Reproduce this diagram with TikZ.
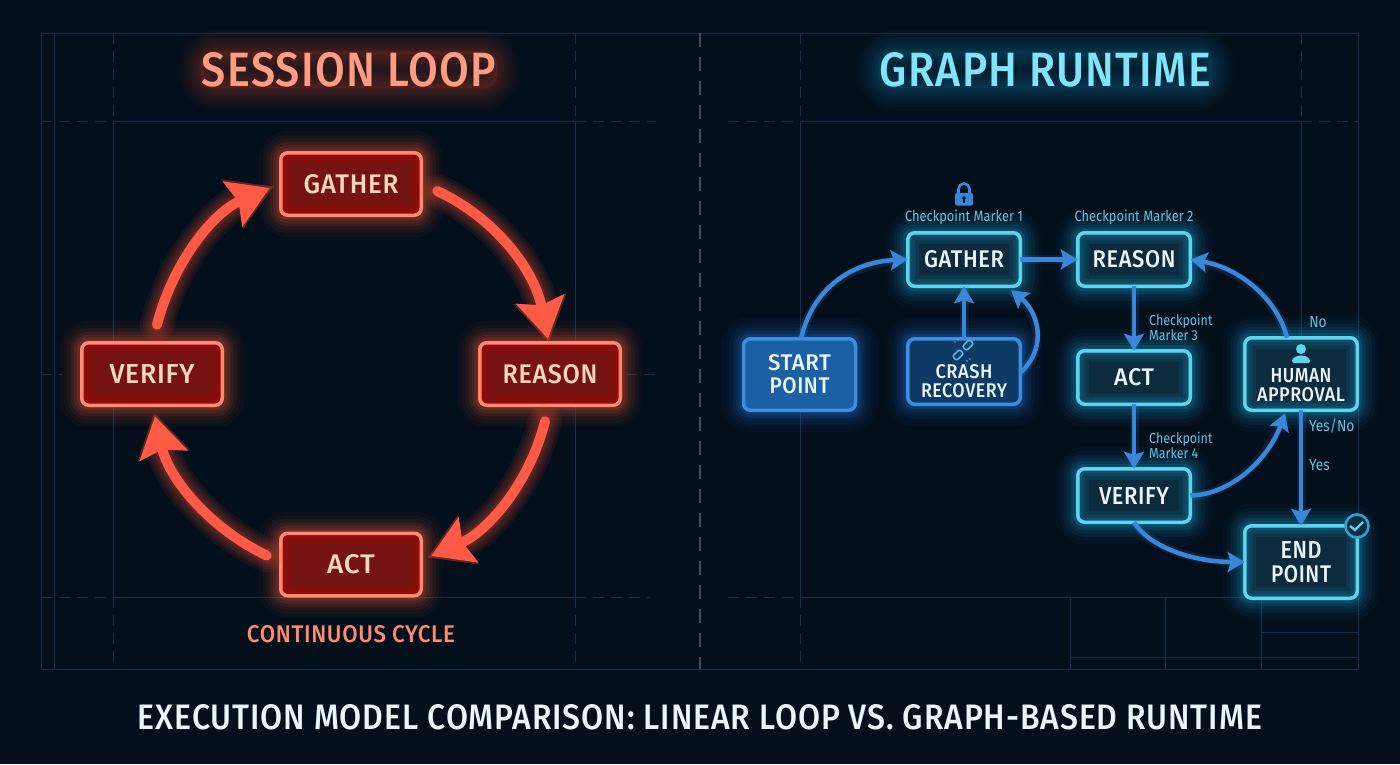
\documentclass[tikz,border=0pt]{standalone}
\usepackage{graphicx}
\usepackage{fontspec}
\setmainfont[FakeStretch=0.86,LetterSpace=2.5]{Fira Sans Medium}
\newfontfamily\lab[FakeStretch=0.86]{Fira Sans}
\usetikzlibrary{arrows.meta,calc}
\newcommand{\tx}[3]{\resizebox{#1pt}{#2pt}{#3}}
\definecolor{bgc}{HTML}{040F1C}
\definecolor{gridc}{HTML}{12304A}
\definecolor{midc}{HTML}{3A4E5E}
\definecolor{redarrow}{HTML}{FF5A45}
\definecolor{redglow}{HTML}{E8502F}
\definecolor{redstroke}{HTML}{FF8A70}
\definecolor{redfill}{HTML}{741311}
\definecolor{redtext}{HTML}{FFD6BE}
\definecolor{redtitle}{HTML}{FF9C82}
\definecolor{bluearrow}{HTML}{3A86D8}
\definecolor{cystroke}{HTML}{5FD4EE}
\definecolor{cyglow}{HTML}{1A9AC8}
\definecolor{cyfill}{HTML}{0C2C3E}
\definecolor{cytitle}{HTML}{7FE6FA}
\definecolor{cylabel}{HTML}{62C4E2}
\definecolor{btext}{HTML}{EAF6FA}
\definecolor{bstroke}{HTML}{3B8FE0}
\definecolor{bglow}{HTML}{2070D0}
\definecolor{startfill}{HTML}{1B5FA5}
\definecolor{crashfill}{HTML}{0F3A66}
\tikzset{
  gridline/.style={draw=gridc,line width=1pt},
  griddash/.style={draw=gridc,line width=1pt,dash pattern=on 11pt off 7pt},
  midline/.style={draw=midc,line width=1.6pt,dash pattern=on 14pt off 10pt},
  halo/.style={
    preaction={draw=#1,line width=44pt,draw opacity=.035},
    preaction={draw=#1,line width=36pt,draw opacity=.05},
    preaction={draw=#1,line width=29pt,draw opacity=.07},
    preaction={draw=#1,line width=22pt,draw opacity=.09},
    preaction={draw=#1,line width=16pt,draw opacity=.12},
    preaction={draw=#1,line width=10pt,draw opacity=.16}},
  softhalo/.style={
    preaction={draw=#1,line width=44pt,draw opacity=.02},
    preaction={draw=#1,line width=38pt,draw opacity=.03},
    preaction={draw=#1,line width=32pt,draw opacity=.03},
    preaction={draw=#1,line width=26pt,draw opacity=.04},
    preaction={draw=#1,line width=20pt,draw opacity=.04},
    preaction={draw=#1,line width=14pt,draw opacity=.05},
    preaction={draw=#1,line width=8pt,draw opacity=.05},
    preaction={draw=#1,line width=3pt,draw opacity=.05}},
  innerglow/.style={path picture={
    \foreach \w/\o in {22/.1,15/.12,9/.14,4/.16}{
      \draw[#1,line width=\w pt,opacity=\o,rounded corners=7pt]
        (path picture bounding box.north west) rectangle (path picture bounding box.south east);}}},
  boxbase/.style={rounded corners=7pt,outer sep=0pt,inner sep=0pt,align=center,line width=3.5pt,
    font=\fontsize{20}{19}\selectfont},
  redbox/.style={boxbase,halo=redglow,draw=redstroke,fill=redfill,text=redtext,innerglow=red!80!black,
    minimum width=140.5pt,minimum height=62.5pt},
  cybox/.style={boxbase,halo=cyglow,draw=cystroke,fill=cyfill,text=btext,innerglow=cyglow,
    minimum width=112.5pt,minimum height=53.5pt},
  startbox/.style={boxbase,halo=bglow,draw=bstroke,fill=startfill,text=btext,
    minimum width=112pt,minimum height=71.5pt},
  crashbox/.style={boxbase,halo=bglow,draw=bstroke,fill=crashfill,text=btext,
    minimum width=112.5pt,minimum height=65.5pt},
  tallbox/.style={cybox,minimum height=72.5pt},
  redtitlebox/.style={inner sep=1pt,text=redtitle,rounded corners=14pt,
    preaction={fill=redglow,fill opacity=.1},softhalo=redglow},
  cytitlebox/.style={inner sep=1pt,text=cytitle,rounded corners=14pt,
    preaction={fill=cyglow,fill opacity=.08},softhalo=cyglow},
  ckcap/.style={inner sep=0pt,text=cylabel,font=\lab\fontsize{14.5}{15}\selectfont,align=left},
  ynlabel/.style={inner sep=0pt,text=cylabel,font=\lab\fontsize{16}{16}\selectfont},
  redtip/.style={-{Stealth[length=40pt,width=48pt,inset=6pt]}},
  redflow/.style={draw=redarrow,line width=10pt,line cap=round,redtip},
  redhalo/.style={draw=redglow,line cap=round,line width=#1,opacity=.09,
    shorten >=-4pt,-{Stealth[length=44pt,width=52pt,inset=6pt,line width=#1]}},
  blueflow/.style={draw=bluearrow,line width=4.5pt,-{Stealth[length=17pt,width=20pt,inset=3pt]},
    preaction={draw=bluearrow,line width=9pt,draw opacity=.12,-}},
  iconfill/.style={fill=bluearrow},
}
\begin{document}
\begin{tikzpicture}[x=1pt,y=-1pt]
\useasboundingbox (0,0) rectangle (1400,764);
\fill[bgc] (0,0) rectangle (1400,764);
% blueprint grid
\draw[gridline] (41,33) rectangle (1358,669);
\draw[gridline] (54,33) -- (54,669);
\draw[griddash] (113,33) -- (113,121);
\draw[gridline] (113,121) -- (113,597);
\draw[griddash] (113,597) -- (113,669);
\draw[griddash] (575,33) -- (575,121);
\draw[gridline] (575,121) -- (575,597);
\draw[griddash] (575,597) -- (575,669);
\draw[griddash] (41,121) -- (113,121);
\draw[gridline] (113,121) -- (575,121);
\draw[griddash] (575,121) -- (656,121);
\draw[griddash] (41,597) -- (113,597);
\draw[gridline] (113,597) -- (575,597);
\draw[griddash] (575,597) -- (650,597);
\draw[griddash] (41,374) -- (62,374);
\draw[griddash] (626,374) -- (660,374);
\draw[midline] (700,33) -- (700,669);
\draw[griddash] (800,33) -- (800,121);
\draw[gridline] (800,121) -- (800,597);
\draw[griddash] (800,597) -- (800,669);
\draw[griddash] (1301,33) -- (1301,121);
\draw[gridline] (1301,121) -- (1301,597);
\draw[griddash] (728,121) -- (800,121);
\draw[gridline] (800,121) -- (1301,121);
\draw[griddash] (1301,121) -- (1358,121);
\draw[griddash] (728,597) -- (800,597);
\draw[gridline] (800,597) -- (1358,597);
\draw[gridline] (1070,597) -- (1070,669);
\draw[gridline] (1165,597) -- (1165,669);
\draw[gridline] (1261,597) -- (1261,669);
\draw[gridline] (1070,657) -- (1358,657);
\draw[gridline] (1261,632) -- (1358,632);
% titles
\node[redtitlebox] (ttl) at (349,70) {\tx{294}{34}{SESSION LOOP}};
\node[cytitlebox] (ttr) at (1045.5,70) {\tx{331}{34}{GRAPH RUNTIME}};
\node[inner sep=0pt,text=btext] (main) at (700,717) {\tx{1124}{25}{EXECUTION MODEL COMPARISON: LINEAR LOOP VS. GRAPH-BASED RUNTIME}};
\node[inner sep=0pt,text=redstroke] (cycle) at (351,634) {\tx{208}{17}{CONTINUOUS CYCLE}};
% session loop nodes
\node[redbox] (lg) at (351,184) {\tx{95}{19}{GATHER}};
\node[redbox] (lr) at (550,374) {\tx{95}{19}{REASON}};
\node[redbox] (la) at (351,564.5) {\tx{48}{19}{ACT}};
\node[redbox] (lv) at (152,374) {\tx{85}{19}{VERIFY}};
% session loop arrows
\foreach \w in {34pt,28pt,23pt,18pt,14pt}{
  \draw[redhalo=\w] ([shift={(16,7)}]lg.east) .. controls (494,217.5) and (534,268.5) .. ([shift={(-2,-4)}]lr.north);
  \draw[redhalo=\w] ([shift={(-5,16)}]lr.south) .. controls (530,482) and (488.5,531) .. ([shift={(10,-8.5)}]la.east);
  \draw[redhalo=\w] ([shift={(-14,-9)}]la.west) .. controls (209,528) and (168.6,478) .. ([shift={(3,11)}]lv.south);
  \draw[redhalo=\w] ([shift={(5,-18)}]lv.north) .. controls (172.5,264) and (212,213) .. ([shift={(-11,4)}]lg.west);
}
\draw[redflow] ([shift={(16,7)}]lg.east) .. controls (494,217.5) and (534,268.5) .. ([shift={(-2,-4)}]lr.north);
\draw[redflow] ([shift={(-5,16)}]lr.south) .. controls (530,482) and (488.5,531) .. ([shift={(10,-8.5)}]la.east);
\draw[redflow] ([shift={(-14,-9)}]la.west) .. controls (209,528) and (168.6,478) .. ([shift={(3,11)}]lv.south);
\draw[redflow] ([shift={(5,-18)}]lv.north) .. controls (172.5,264) and (212,213) .. ([shift={(-11,4)}]lg.west);
% graph runtime nodes
\node[startbox] (st) at (799.5,374.5) {\tx{63}{16}{START}\\[4pt]\tx{60}{16}{POINT}};
\node[cybox] (gg) at (964,259.5) {\tx{80}{17}{GATHER}};
\node[cybox] (gr) at (1134,259.5) {\tx{83}{17}{REASON}};
\node[cybox] (ga) at (1134,377.5) {\tx{40}{17}{ACT}};
\node[cybox] (gv) at (1134,495.5) {\tx{70}{17}{VERIFY}};
\node[crashbox] (gc) at (964,371.5) {\rule{0pt}{14pt}\\\tx{57}{14}{CRASH}\\\tx{86}{14}{RECOVERY}};
\node[tallbox] (gh) at (1301,374) {\rule{0pt}{17pt}\\\tx{61}{14}{HUMAN}\\\tx{88}{14}{APPROVAL}};
\node[tallbox] (ge) at (1301,562) {\tx{41}{17}{END}\\[5pt]\tx{60}{17}{POINT}};
% graph runtime arrows
\draw[blueflow] ([xshift=1.5pt]st.north) .. controls (812,290) and (850,262) .. (gg.west);
\draw[blueflow] (gg.east) -- (gr.west);
\draw[blueflow] (gc.north) -- (gg.south);
\draw[blueflow] ([yshift=-1.5pt]gc.east) .. controls (1050,345) and (1036,310) .. ([shift={(47,4)}]gg.south);
\draw[blueflow] (gr.south) -- (ga.north);
\draw[blueflow] (ga.south) -- (gv.north);
\draw[blueflow] (gh.south) -- (ge.north);
\draw[blueflow] ([xshift=-14pt]gh.north) .. controls (1278,300) and (1240,268) .. (gr.east);
\draw[blueflow] (gv.east) .. controls (1230,495) and (1268,460) .. ([shift={(-16,3)}]gh.south);
\draw[blueflow] (gv.south) .. controls (1150,548) and (1195,562) .. (ge.west);
% labels
\node[ckcap] (c1) at (964,217) {\resizebox{118pt}{!}{Checkpoint Marker 1}};
\node[ckcap] (c2) at (1134,217) {\resizebox{119pt}{!}{Checkpoint Marker 2}};
\node[ckcap,anchor=north west] (c3) at (1149,314) {Checkpoint\\Marker 3};
\node[ckcap,anchor=north west] (c4) at (1149,432) {Checkpoint\\Marker 4};
\node[ynlabel] (no) at (1318,322) {No};
\node[ynlabel,anchor=west] (yn) at (1309,426) {Yes/No};
\node[ynlabel,anchor=west] (ye) at (1309,465) {Yes};
% lock icon
\draw[bluearrow,line width=2.6pt] (958.5,194) -- (958.5,189) arc[start angle=180,end angle=0,x radius=5.5,y radius=-5.5] -- (969.5,194);
\fill[iconfill,rounded corners=2pt] (955,193) rectangle (973,205.5);
\fill[bgc] (964,198) circle (1.8);
\fill[bgc] (963.2,198) rectangle (964.8,202.5);
% chain icon
\begin{scope}[shift={(963,350)},rotate=45]
\draw[cystroke!70!bluearrow,line width=1.5pt,rounded corners=2.2pt] (-12,-3) rectangle (-2,3);
\draw[cystroke!70!bluearrow,line width=1.5pt,rounded corners=2.2pt] (2,-3) rectangle (12,3);
\end{scope}
\fill[cystroke!70!bluearrow] (955,342) circle (.8) (958,339.5) circle (.8) (970,359) circle (.8) (967,361) circle (.8);
% person icon
\fill[cystroke] (1301,349) circle (5);
\fill[cystroke,rounded corners=1.5pt] (1292,363) .. controls (1292,353.5) and (1310,353.5) .. (1310,363) -- cycle;
% check badge
\node[circle,draw=cyglow!80!cystroke,fill=cyfill,line width=2.6pt,minimum size=23pt,inner sep=0pt] (bd) at (1357,526) {};
\draw[cystroke,line width=2.4pt] (bd.center) ++(-7,0) -- ++(5,4) -- ++(8,-8);
\end{tikzpicture}
\end{document}
